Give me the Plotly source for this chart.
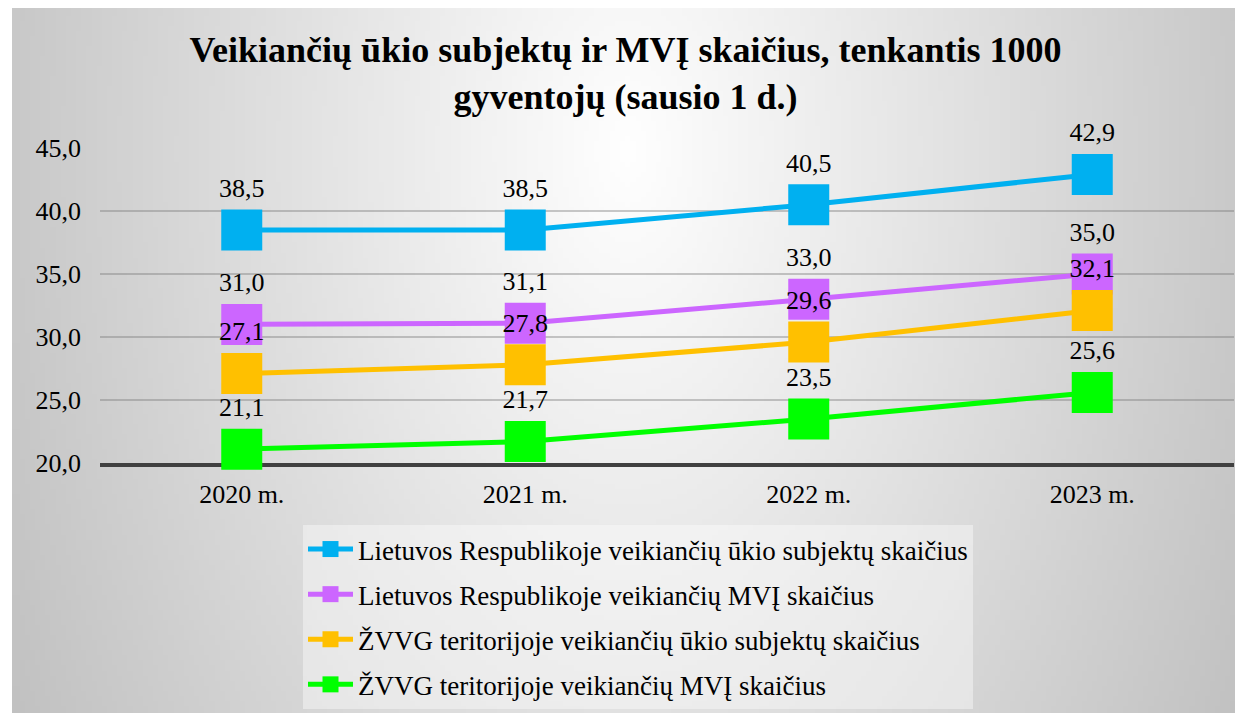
"""Veikiančių ūkio subjektų ir MVĮ skaičius, tenkantis 1000 gyventojų."""

import base64
import math
import struct
import zlib

import plotly.graph_objects as go

years = ["2020 m.", "2021 m.", "2022 m.", "2023 m."]

lr_ukio = [38.5, 38.5, 40.5, 42.9]
lr_mvi = [31.0, 31.1, 33.0, 35.0]
zvvg_ukio = [27.1, 27.8, 29.6, 32.1]
zvvg_mvi = [21.1, 21.7, 23.5, 25.6]

names = [
    "Lietuvos Respublikoje veikiančių ūkio subjektų skaičius",
    "Lietuvos Respublikoje veikiančių MVĮ skaičius",
    "ŽVVG teritorijoje veikiančių ūkio subjektų skaičius",
    "ŽVVG teritorijoje veikiančių MVĮ skaičius",
]
colors = ["#00B0F0", "#CC66FF", "#FFC000", "#00FF00"]

# puslapis turi 8 px paraštę, todėl figūra mažesnė už langą
W, H = 1235, 705
ML, MR, MT, MB = 92, 9, 140, 250
PW, PH = W - ML - MR, H - MT - MB
FONT = "Liberation Serif, Times New Roman, serif"


def gradient_png(w=240, h=140):
    """Radialinis pilkas fonas (kaip Excel diagramos srityje)."""
    rows = b""
    for j in range(h):
        y = j / (h - 1)
        row = bytearray([0])
        for i in range(w):
            x = i / (w - 1)
            dx = (x - 0.5) / 0.5
            dy = (y - 0.2) / 0.8 * 0.55
            d = math.sqrt(dx * dx + dy * dy)
            row.append(max(0, min(255, int(255 - 54 * d))))
        rows += bytes(row)

    def chunk(tag, data):
        c = struct.pack(">I", len(data)) + tag + data
        return c + struct.pack(">I", zlib.crc32(tag + data) & 0xFFFFFFFF)

    png = b"\x89PNG\r\n\x1a\n"
    png += chunk(b"IHDR", struct.pack(">IIBBBBB", w, h, 8, 0, 0, 0, 0))
    png += chunk(b"IDAT", zlib.compress(rows))
    png += chunk(b"IEND", b"")
    return "data:image/png;base64," + base64.b64encode(png).decode()


fig = go.Figure()

for i, (name, values) in enumerate(
    zip(names, [lr_ukio, lr_mvi, zvvg_ukio, zvvg_mvi])
):
    fig.add_trace(
        go.Scatter(
            x=years,
            y=values,
            name=name,
            mode="lines+markers+text",
            line=dict(color=colors[i], width=5),
            marker=dict(symbol="square", size=41, color=colors[i]),
            text=[f"{v:.1f}".replace(".", ",") for v in values],
            textposition="top center",
            textfont=dict(family=FONT, size=26, color="black"),
            cliponaxis=False,
            legendgroup=str(i),
        )
    )

# fonas: 4 px baltos juostos kairėje
fig.add_layout_image(
    source=gradient_png(),
    xref="paper",
    yref="paper",
    x=-(ML - 4) / PW,
    y=(H - MB) / PH,
    sizex=(W - 4) / PW,
    sizey=H / PH,
    xanchor="left",
    yanchor="top",
    sizing="stretch",
    layer="below",
)

fig.update_layout(
    width=W,
    height=H,
    margin=dict(l=ML, r=MR, t=MT, b=MB, autoexpand=False),
    paper_bgcolor="white",
    plot_bgcolor="rgba(0,0,0,0)",
    separators=", ",
    font=dict(family=FONT, size=26, color="black"),
    title=dict(
        text="<b>Veikiančių ūkio subjektų ir MVĮ skaičius, tenkantis 1000"
        "<br>gyventojų (sausio 1 d.)</b>",
        font=dict(family=FONT, size=36, color="black"),
        x=0.5,
        xanchor="center",
        y=1 - 54 / H,
        yanchor="middle",
    ),
    xaxis=dict(
        range=[-0.5, 3.5],
        showgrid=False,
        showline=True,
        linecolor="#404040",
        linewidth=4,
        layer="below traces",
        tickfont=dict(family=FONT, size=26),
        ticklabelstandoff=5,
    ),
    yaxis=dict(
        range=[20, 45],
        dtick=5,
        tickformat=".1f",
        gridcolor="rgba(120,120,120,0.4)",
        gridwidth=2,
        zeroline=False,
        layer="below traces",
        tickfont=dict(family=FONT, size=26),
        ticklabelstandoff=18,
    ),
    legend=dict(
        xref="container",
        yref="container",
        x=295 / W,
        y=1 - 517 / H,
        xanchor="left",
        yanchor="top",
        bgcolor="rgba(255,255,255,0.4)",
        font=dict(family=FONT, size=27),
        traceorder="grouped",
        tracegroupgap=7,
        itemwidth=45,
    ),
    showlegend=True,
)

fig.write_html("out.html")
